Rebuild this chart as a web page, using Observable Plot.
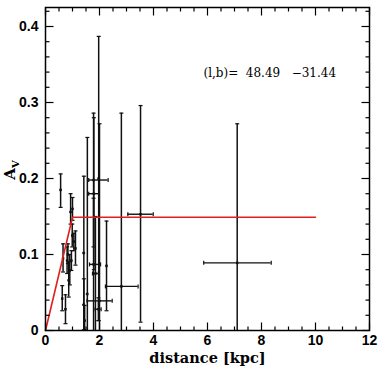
<!DOCTYPE html>
<html><head><meta charset="utf-8">
<script src="https://cdn.jsdelivr.net/npm/d3@7"></script>
<script src="https://cdn.jsdelivr.net/npm/@observablehq/plot@0.6"></script>
<style>body{margin:0;background:#fff} svg{white-space:pre}</style>
</head><body><div id="chart"></div>
<script>
// distance [kpc], extinction A_V, and their error limits
const dist = [0.56,0.62,0.65,0.74,0.80,0.83,0.86,0.90,0.93,0.96,0.99,1.00,1.05,1.11,
              1.42,1.55,1.42,1.45,1.78,1.79,1.78,1.85,1.97,2.00,1.96,2.26,2.81,3.52,7.10];
const av   = [0.185,0.042,0.095,0.028,0.092,0.100,0.066,0.079,0.156,0.092,0.125,0.160,0.117,0.108,
              0.102,0.048,0.034,0.013,0.198,0.180,0.087,0.075,0.200,0.039,0.028,0.085,0.058,0.153,0.089];
const avLo = [0.162,0.026,0.077,0.009,0.075,0.088,0.044,0.060,0.140,0.079,0.110,0.145,0.105,0.086,
              0.001,0.000,0.000,0.000,0.110,0.080,0.000,0.000,0.013,0.000,0.013,0.026,0.000,0.011,0.000];
const avHi = [0.206,0.059,0.114,0.047,0.110,0.114,0.090,0.100,0.180,0.105,0.140,0.175,0.128,0.131,
              0.203,0.254,0.068,0.033,0.286,0.280,0.174,0.150,0.387,0.272,0.043,0.144,0.286,0.296,0.272];
const distLo = [0.54,0.60,0.63,0.72,0.78,0.81,0.84,0.88,0.91,0.94,0.97,0.98,1.03,1.09,
                1.38,1.51,1.38,1.41,1.60,1.60,1.63,1.74,1.95,1.54,1.84,2.24,2.22,3.05,5.86];
const distHi = [0.58,0.64,0.67,0.76,0.82,0.85,0.88,0.92,0.95,0.98,1.01,1.02,1.07,1.13,
                1.46,1.59,1.46,1.49,2.32,1.97,2.04,1.96,1.99,2.47,2.06,2.28,3.43,3.99,8.36];

// extinction model (red)
const modelD = [0, 1.0, 10];
const modelA = [0, 0.149, 0.149];

// axis ticks
const xTicks = [0, 2, 4, 6, 8, 10, 12];
const yTicks = [0, 0.1, 0.2, 0.3, 0.4];
const yTickLabels = ["0", "0.1", "0.2", "0.3", "0.4"];

// annotation
const annoText = ["(l,b)=  48.49   \u221231.44"];
const annoD = [5.85];
const annoA = [0.339];

const rows = dist.map((d, i) => ({d, a: av[i], lo: avLo[i], hi: avHi[i], dlo: distLo[i], dhi: distHi[i]}));
const model = modelD.map((d, i) => ({d, a: modelA[i]}));
const anno = annoText.map((t, i) => ({t, d: annoD[i], a: annoA[i]}));

const xMinor = d3.range(0, 12.001, 0.5).filter(v => Math.abs(v / 2 - Math.round(v / 2)) > 1e-6);
const yMinor = d3.range(0, 0.4201, 0.02).filter(v => Math.abs(v * 10 - Math.round(v * 10)) > 1e-6);

function seg(dx, dy) {
  return {draw(ctx, size) { const r = Math.sqrt(size / Math.PI); ctx.moveTo(0, 0); ctx.lineTo(dx * r, dy * r); }};
}
const capH = {draw(ctx, size) { const r = Math.sqrt(size / Math.PI); ctx.moveTo(-r, 0); ctx.lineTo(r, 0); }};
const capV = {draw(ctx, size) { const r = Math.sqrt(size / Math.PI); ctx.moveTo(0, -r); ctx.lineTo(0, r); }};

const ink = "#111";
const tickMarks = (vals, axis, len) => {
  const o = {stroke: "#000", strokeWidth: 1.2, r: len};
  if (axis === "x") return [
    Plot.dot(vals, {...o, x: d => d, frameAnchor: "bottom", symbol: seg(0, -1)}),
    Plot.dot(vals, {...o, x: d => d, frameAnchor: "top", symbol: seg(0, 1)})
  ];
  return [
    Plot.dot(vals, {...o, y: d => d, frameAnchor: "left", symbol: seg(1, 0)}),
    Plot.dot(vals, {...o, y: d => d, frameAnchor: "right", symbol: seg(-1, 0)})
  ];
};

const plot = Plot.plot({
  width: 380, height: 374,
  marginLeft: 45, marginRight: 11, marginTop: 7, marginBottom: 44,
  x: {domain: [0, 12]},
  y: {domain: [0, 0.425]},
  style: {fontFamily: "Liberation Sans", fontSize: "14px", fontWeight: "bold", background: "#fff", color: "#000"},
  marks: [
    Plot.ruleX(rows, {x: "d", y1: "lo", y2: "hi", stroke: ink, strokeWidth: 1.5}),
    Plot.ruleY(rows, {y: "a", x1: "dlo", x2: "dhi", stroke: ink, strokeWidth: 1.4}),
    Plot.dot(rows.filter(r => r.lo > 0), {x: "d", y: "lo", symbol: capH, r: 2, stroke: ink, strokeWidth: 1.2}),
    Plot.dot(rows, {x: "d", y: "hi", symbol: capH, r: 2, stroke: ink, strokeWidth: 1.2}),
    Plot.dot(rows.filter(r => r.dhi - r.dlo > 0.1), {x: "dlo", y: "a", symbol: capV, r: 2, stroke: ink, strokeWidth: 1.2}),
    Plot.dot(rows.filter(r => r.dhi - r.dlo > 0.1), {x: "dhi", y: "a", symbol: capV, r: 2, stroke: ink, strokeWidth: 1.2}),
    Plot.dot(rows, {x: "d", y: "a", symbol: "square", r: 1.4, fill: ink}),
    Plot.line(model, {x: "d", y: "a", stroke: "#e0201c", strokeWidth: 1.6}),
    Plot.frame({stroke: "#000", strokeWidth: 1.5}),
    ...tickMarks(xTicks, "x", 8),
    ...tickMarks(xMinor, "x", 4),
    ...tickMarks(yTicks, "y", 8),
    ...tickMarks(yMinor, "y", 4),
    Plot.axisX({ticks: xTicks, tickSize: 0, tickPadding: 5, label: null, tickFormat: d => String(d)}),
    Plot.axisY({ticks: yTicks, tickSize: 0, tickPadding: 7, label: null, tickFormat: (d, i) => yTickLabels[i]}),
    Plot.text(anno, {x: "d", y: "a", text: "t", textAnchor: "start", fontFamily: "DejaVu Serif", fontSize: 12, fontWeight: "normal", fill: "#000"}),
    Plot.text(["distance [kpc]"], {frameAnchor: "bottom", dy: 32, fontFamily: "DejaVu Serif", fontSize: 14.5, fontWeight: "bold", fill: "#000"})
  ]
});

const svg = d3.select(plot);
const t = svg.append("text")
  .attr("transform", "translate(15,170) rotate(-90)")
  .attr("text-anchor", "middle")
  .style("font-family", "DejaVu Serif").style("font-weight", "bold").style("font-size", "15px").attr("fill", "#000");
t.append("tspan").text("A");
t.append("tspan").attr("dy", 4).style("font-size", "10px").text("V");

document.getElementById("chart").appendChild(plot);
</script>
</body></html>
